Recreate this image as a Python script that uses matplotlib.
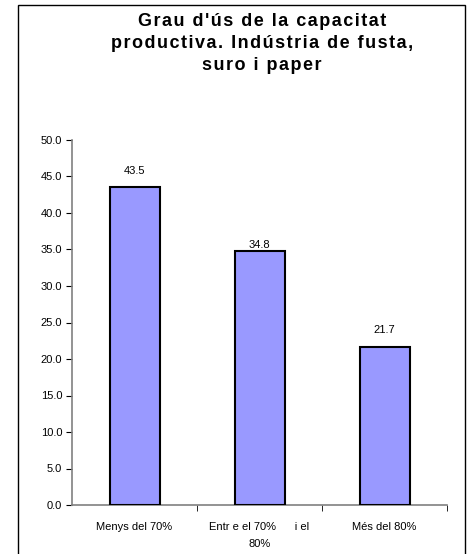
import matplotlib
matplotlib.use('Agg')
import matplotlib.pyplot as plt
from matplotlib.patches import Rectangle
import numpy as np

plt.rcParams['font.family'] = ['Liberation Sans', 'DejaVu Sans']

# dades
categories = ['Menys del 70%', 'Entr e el 70%      i el\n80%', 'Més del 80%']
valors = [43.5, 34.8, 21.7]
yticks = [0, 5, 10, 15, 20, 25, 30, 35, 40, 45, 50]
titol = ["Grau d'ús de la capacitat", "productiva. Indústria de fusta,", "suro i paper"]

fig = plt.figure(figsize=(4.70, 5.54), dpi=100)
fig.patch.set_facecolor('white')

# marc exterior
fig.patches.append(Rectangle((18/470, -0.01), (465-18)/470, 1-5/554+0.01,
                             transform=fig.transFigure, fill=False,
                             edgecolor='black', lw=1.0))

ax = fig.add_axes([72/470, 1-505/554, (447-72)/470, (505-140)/554])
x = np.arange(len(valors))
ax.bar(x, valors, width=0.4, color='#9999FF', edgecolor='black', linewidth=1.5, zorder=3)

ax.set_xlim(-0.5, 2.5)
ax.set_ylim(0, 50)
ax.set_yticks(yticks)
ax.set_yticklabels(['%.1f' % v for v in yticks], fontsize=8)
ax.set_xticks(x)
ax.set_xticklabels(categories, fontsize=8, linespacing=1.9)
ax.set_xticks([0.5, 1.5, 2.5], minor=True)
ax.tick_params(axis='x', which='major', length=0, pad=12)
ax.tick_params(axis='x', which='minor', length=4, direction='out', color='black')
ax.tick_params(axis='y', length=4, direction='out', color='black', pad=3)

for s in ['top', 'right']:
    ax.spines[s].set_visible(False)
for s in ['left', 'bottom']:
    ax.spines[s].set_color('#808080')
    ax.spines[s].set_linewidth(1.2)

offs = [8, 1, 8]
for xi, v, o in zip(x, valors, offs):
    ax.annotate('%.1f' % v, (xi, v), xytext=(0, o), textcoords='offset points',
                ha='center', va='bottom', fontsize=8)

# títol amb una mica d'espaiat entre lletres
ys = [21, 43, 65]
for linia, y in zip(titol, ys):
    fig.text(262/470, 1-y/554, '\u200a'.join(linia), ha='center', va='center',
             fontsize=13, fontweight='bold')

fig.savefig('out.png', dpi=100)
